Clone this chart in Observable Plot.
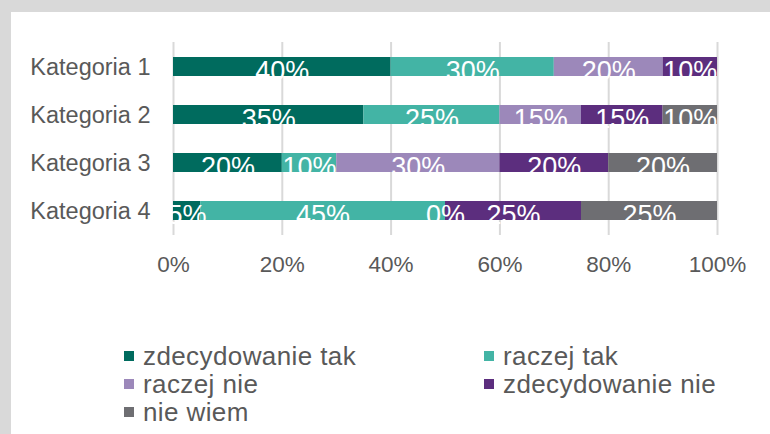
<!DOCTYPE html>
<html>
<head>
<meta charset="utf-8">
<script src="https://cdn.jsdelivr.net/npm/d3@7"></script>
<script src="https://cdn.jsdelivr.net/npm/@observablehq/plot@0.6"></script>
<style>
  html, body { margin: 0; padding: 0; }
  body { width: 770px; height: 434px; background: #d9d9d9; position: relative; overflow: hidden; font-family: "Liberation Sans", Arial, sans-serif; }
  #panel { position: absolute; left: 11px; top: 12px; width: 759px; height: 422px; background: #fff; }
  #chart { position: absolute; left: 0; top: 0; }
  #legend { position: absolute; left: 113px; top: 330px; display: grid; grid-template-columns: 360px 260px; grid-auto-rows: 28px; color: #595959; font-size: 26px; letter-spacing: 0.4px; }
  #legend .item { display: flex; align-items: center; white-space: nowrap; }
  #legend .sw { width: 10px; height: 10px; margin-right: 9px; flex: none; }
</style>
</head>
<body>
<div id="panel">
  <div id="chart"></div>
  <div id="legend"></div>
</div>
<script>
const categories = ["Kategoria 1", "Kategoria 2", "Kategoria 3", "Kategoria 4"];
const seriesNames = ["zdecydowanie tak", "raczej tak", "raczej nie", "zdecydowanie nie", "nie wiem"];
const seriesColors = ["#006b5e", "#43b4a5", "#9c88ba", "#5c2e7e", "#6e6e72"];
// values per series, in category order (null = not present)
const zdecydowanieTak = [40, 35, 20, 5];
const raczejTak = [30, 25, 10, 45];
const raczejNie = [20, 15, 30, 0];
const zdecydowanieNie = [10, 15, 20, 25];
const nieWiem = [null, 10, 20, 25];
const xTicks = [0, 20, 40, 60, 80, 100];

const seriesValues = [zdecydowanieTak, raczejTak, raczejNie, zdecydowanieNie, nieWiem];
const data = [];
categories.forEach((c, ci) => {
  seriesNames.forEach((s, si) => {
    const v = seriesValues[si][ci];
    if (v !== null) data.push({cat: c, series: s, value: v});
  });
});

const fontFam = "'Liberation Sans', Arial, sans-serif";

const chart = Plot.plot({
  width: 759,
  height: 290,
  marginLeft: 162,
  marginRight: 53,
  marginTop: 30,
  marginBottom: 67,
  style: {fontFamily: fontFam, background: "transparent", overflow: "visible"},
  x: {domain: [0, 100], ticks: xTicks},
  y: {domain: categories, paddingInner: 0.6, paddingOuter: 0.3},
  color: {domain: seriesNames, range: seriesColors},
  marks: [
    Plot.gridX(xTicks, {stroke: "#d9d9d9", strokeOpacity: 1, strokeWidth: 2}),
    Plot.ruleY([0], {frameAnchor: "bottom", stroke: "#d9d9d9", strokeWidth: 2}),
    Plot.barX(data, Plot.stackX({x: "value", y: "cat", z: "series", fill: "series", order: seriesNames})),
    Plot.text(data, Plot.stackX({x: "value", y: "cat", z: "series", order: seriesNames, text: d => d.value + "%", fill: "white", fontSize: 27, dy: 4})),
    Plot.axisX(xTicks, {tickSize: 0, tickPadding: 21, tickFormat: d => d + "%", fontSize: 22.5, color: "#595959", label: null}),
    Plot.axisY({tickSize: 0, tickPadding: 23, fontSize: 23.5, color: "#595959", label: null})
  ]
});
document.getElementById("chart").appendChild(chart);

const legend = document.getElementById("legend");
seriesNames.forEach((s, i) => {
  const item = document.createElement("div");
  item.className = "item";
  const sw = document.createElement("span");
  sw.className = "sw";
  sw.style.background = seriesColors[i];
  const lab = document.createElement("span");
  lab.textContent = s;
  item.appendChild(sw);
  item.appendChild(lab);
  legend.appendChild(item);
});
</script>
</body>
</html>
